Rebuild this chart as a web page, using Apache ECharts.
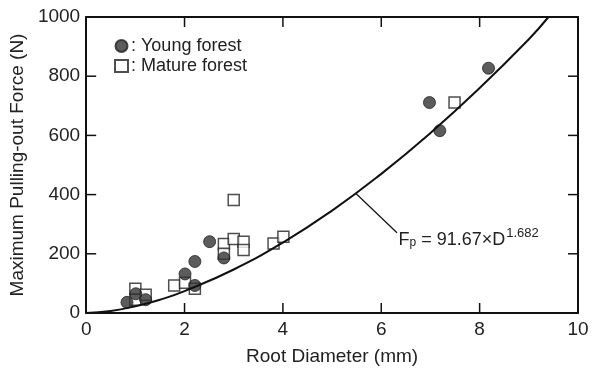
<!DOCTYPE html>
<html><head><meta charset="utf-8">
<script src="https://cdn.jsdelivr.net/npm/echarts@6/dist/echarts.min.js"></script>
<style>html,body{margin:0;padding:0;background:#fff}#c{width:598px;height:371px}</style>
</head><body><div id="c"></div>
<script>
const xTicks = [0, 2, 4, 6, 8, 10];
const yTicks = [0, 200, 400, 600, 800, 1000];
const youngForest = [[0.83,36],[1.01,65],[1.21,45],[2.01,132],[2.21,174],[2.21,93],[2.51,241],[2.8,186],[6.98,711],[7.19,616],[8.18,827]];
const matureForest = [[1.0,82],[1.0,45],[1.21,62],[1.79,93],[2.01,102],[2.21,82],[2.8,233],[2.8,200],[3.0,382],[3.0,250],[3.2,241],[3.2,213],[3.81,235],[4.01,258],[7.49,711]];
const fitCurve = [[0,0],[0.5,7],[1,23],[1.5,45],[2,74],[3,147],[4,238],[5,346],[6,470],[7,608],[8,760],[9,925],[9.4,1000]];
const arrowFrom = [6.32, 271];
const arrowTo = [5.49, 403];
const labelAt = [6.35, 247];

(function () {
const font = '"Liberation Sans", Arial, sans-serif';
const chart = echarts.init(document.getElementById('c'));
const num = v => String(v);
const xMin = xTicks[0], xMax = xTicks[xTicks.length-1];
const yMin = yTicks[0], yMax = yTicks[yTicks.length-1];
chart.setOption({
  animation:false,
  grid:{left:85, right:20, top:17, bottom:58},
  legend:{
    orient:'vertical', left:109, top:32, itemGap:2, itemWidth:13, itemHeight:12,
    textStyle:{fontFamily:font, fontSize:18, color:'#222', padding:[0,0,0,-2]},
    formatter:': {name}',
    data:['Young forest','Mature forest']
  },
  xAxis:[{
    type:'value', min:xMin, max:xMax, interval:2,
    name:'Root Diameter (mm)', nameLocation:'middle', nameGap:34,
    nameTextStyle:{fontFamily:font, fontSize:19, color:'#222'},
    axisLine:{show:true, onZero:false, lineStyle:{color:'#111', width:2}},
    axisTick:{show:false},
    splitLine:{show:false},
    axisLabel:{fontFamily:font, fontSize:19, color:'#222', margin:7, formatter:num}
  },{
    type:'value', min:xMin, max:xMax, interval:2, position:'top',
    axisLine:{show:true, onZero:false, lineStyle:{color:'#111', width:2}},
    axisTick:{show:false}, splitLine:{show:false}, axisLabel:{show:false}
  }],
  yAxis:[{
    type:'value', min:yMin, max:yMax, interval:200,
    name:'Maximum Pulling-out Force (N)', nameLocation:'middle', nameGap:47,
    nameTextStyle:{fontFamily:font, fontSize:19, color:'#222'},
    axisLine:{show:true, onZero:false, lineStyle:{color:'#111', width:2}},
    axisTick:{show:false},
    splitLine:{show:false},
    axisLabel:{fontFamily:font, fontSize:19, color:'#222', margin:6, formatter:num}
  },{
    type:'value', min:yMin, max:yMax, interval:200, position:'right',
    axisLine:{show:true, onZero:false, lineStyle:{color:'#111', width:2}},
    axisTick:{show:false}, splitLine:{show:false}, axisLabel:{show:false}
  }],
  series:[
    {
      name:'fit', type:'line', data:fitCurve, smooth:true, symbol:'none',
      lineStyle:{color:'#111', width:2},
      markLine:{
        silent:true, symbol:['none','arrow'], symbolSize:[0,10],
        lineStyle:{color:'#111', width:1.2, type:'solid'}, label:{show:false},
        data:[[{coord:arrowFrom},{coord:arrowTo}]]
      },
      markPoint:{
        silent:true, symbol:'circle', symbolSize:0,
        data:[{coord:labelAt}],
        label:{
          show:true, position:'right', distance:0,
          formatter:'{a|F}{s|p}{a| = 91.67×D}{u|1.682}',
          rich:{
            a:{fontFamily:font, fontSize:18, color:'#222'},
            s:{fontFamily:font, fontSize:12, color:'#222', padding:[6,0,0,0]},
            u:{fontFamily:font, fontSize:13, color:'#222', padding:[0,0,12,1]}
          }
        }
      }
    },
    {
      name:'Mature forest', type:'scatter', data:matureForest, symbol:'rect', symbolSize:11,
      itemStyle:{color:'#fff', borderColor:'#222', borderWidth:1.5}
    },
    {
      name:'Young forest', type:'scatter', data:youngForest, symbol:'circle', symbolSize:12,
      itemStyle:{color:'#333', borderColor:'#222', borderWidth:1}
    }
  ]
});

// inward tick marks on all four sides, placed through the axes' own scales
const TL = 10;
const gLeft = chart.convertToPixel({xAxisIndex:0}, xMin);
const gRight = chart.convertToPixel({xAxisIndex:0}, xMax);
const gBottom = chart.convertToPixel({yAxisIndex:0}, yMin);
const gTop = chart.convertToPixel({yAxisIndex:0}, yMax);
const tickEls = [];
const st = {stroke:'#111', lineWidth:1.5};
xTicks.slice(1, -1).forEach(v => {
  const px = chart.convertToPixel({xAxisIndex:0}, v);
  tickEls.push({type:'line', silent:true, shape:{x1:px, y1:gBottom, x2:px, y2:gBottom - TL}, style:st});
  tickEls.push({type:'line', silent:true, shape:{x1:px, y1:gTop, x2:px, y2:gTop + TL}, style:st});
});
yTicks.slice(1, -1).forEach(v => {
  const py = chart.convertToPixel({yAxisIndex:0}, v);
  tickEls.push({type:'line', silent:true, shape:{x1:gLeft, y1:py, x2:gLeft + TL, y2:py}, style:st});
  tickEls.push({type:'line', silent:true, shape:{x1:gRight, y1:py, x2:gRight - TL, y2:py}, style:st});
});
chart.setOption({graphic:{elements:tickEls}});
})();
</script></body></html>
